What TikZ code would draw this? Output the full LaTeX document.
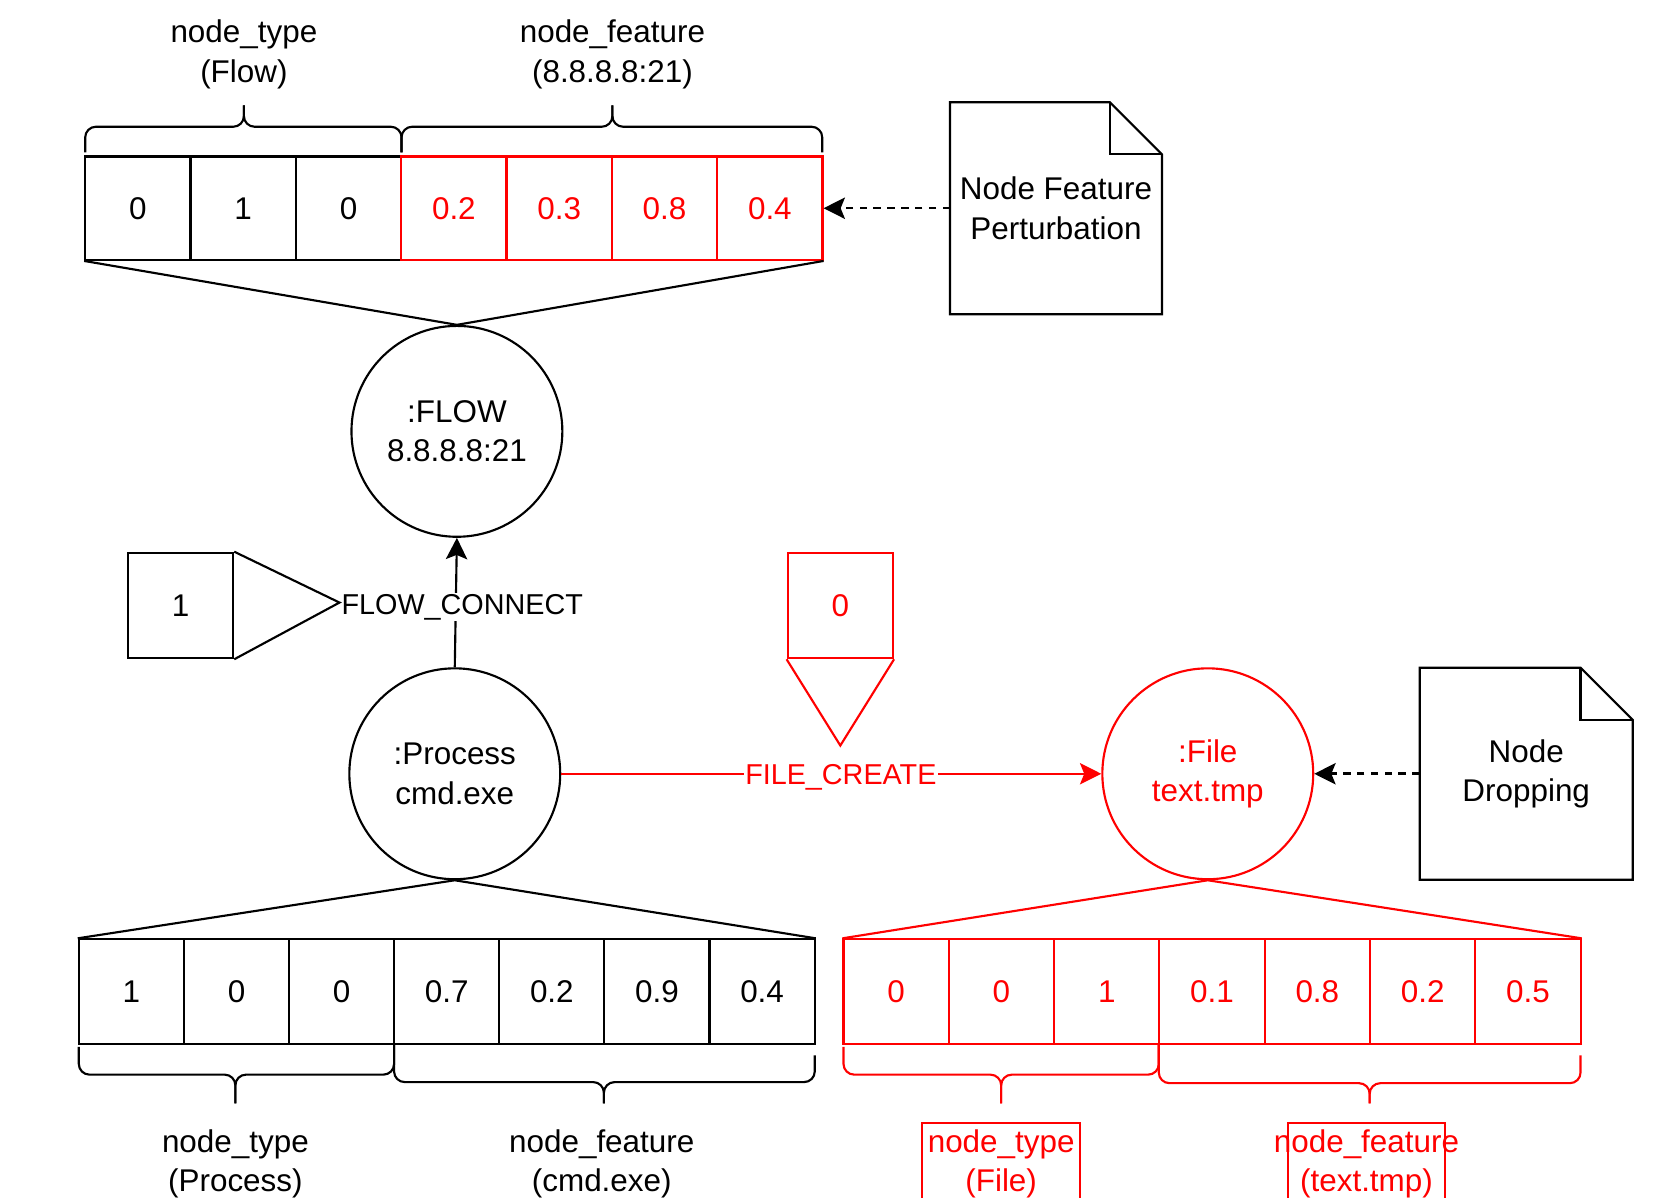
\documentclass[tikz,border=0pt]{standalone}
\usepackage{fontspec}
\setmainfont{Liberation Sans}
\usetikzlibrary{arrows.meta}
\begin{document}
\begin{tikzpicture}[x=1pt,y=-1pt,
  every node/.style={font=\fontsize{29.5}{37}\selectfont},
  line width=2pt,
  cell/.style={draw, minimum width=98.9pt, minimum height=97pt, inner sep=0pt},
  ent/.style={draw, circle, minimum size=198pt, inner sep=0pt, align=center},
  edgelabel/.style={font=\fontsize{27}{33}\selectfont, fill=white, inner sep=1pt},
  arrowed/.style={-{Stealth[length=20pt,width=20pt,inset=4pt]}},
  perturb/.style={arrowed, line width=2.4pt, dash pattern=on 7pt off 6pt},
  doc/.style={minimum width=197pt, minimum height=197pt, align=center, inner sep=0pt},
  brace/.style={rounded corners=10pt},
  hl/.style={red, text=red},
  lbl/.style={align=center}
]
\useasboundingbox (0,0) rectangle (1568,1124);
\clip (0,0) rectangle (1568,1124);

% ---- flow node and its feature vector ----
\foreach \v [count=\i] in {0,1,0}
  \node[cell] (ta\i) at ({129.45+98.9*(\i-1)},195.5) {\v};
\foreach \v [count=\i from 4] in {0.2,0.3,0.8,0.4}
  \node[cell, hl] (ta\i) at ({129.45+98.9*(\i-1)},195.5) {\v};

\draw[brace] (80,143) -- (80,119) -- (229,119) -- (229,99);
\draw[brace] (229,99) -- (229,119) -- (377,119) -- (377,143);
\draw[brace] (377,143) -- (377,119) -- (575,119) -- (575,99);
\draw[brace] (575,99) -- (575,119) -- (772,119) -- (772,143);
\node[lbl] (tl1) at (229,51) {node\_type\\(Flow)};
\node[lbl] (tl2) at (575,51) {node\_feature\\(8.8.8.8:21)};

\node[ent] (flow) at (429,405) {:FLOW\\8.8.8.8:21};
\draw (ta1.south west) -- (flow.north) -- (ta7.south east);

% ---- perturbation note ----
\node[doc] (nfp) at (991.5,195.5) {Node Feature\\Perturbation};
\draw (nfp.north west) -- ([xshift=-49pt]nfp.north east) -- ([yshift=-49pt]nfp.north east)
  -- (nfp.south east) -- (nfp.south west) -- cycle;
\draw ([xshift=-49pt]nfp.north east) -- ([xshift=-49pt,yshift=-49pt]nfp.north east)
  -- ([yshift=-49pt]nfp.north east);
\draw[perturb] (nfp.west) -- (ta7.east);

% ---- process node and edges ----
\node[ent] (proc) at (427,726.5) {:Process\\cmd.exe};
\node[ent, hl] (file) at (1134,726.5) {:File\\text.tmp};

\draw[arrowed] (proc.north) -- node[edgelabel, xshift=6pt, yshift=-4pt] (fc) {FLOW\_CONNECT} (flow.south);
\draw[arrowed, red] (proc.east) -- node[edgelabel, text=red, xshift=9pt, yshift=-3pt] (fcr) {FILE\_CREATE} (file.west);

% edge type markers
\node[cell, minimum height=99pt] (ew) at (169.5,568.5) {1};
\draw (ew.north east) -- ([yshift=4pt]fc.west) -- (ew.south east);
\node[cell, hl, minimum height=99pt] (ez) at (789,568.5) {0};
\coordinate (eztip) at (789,700);
\draw[red] (ez.south west) -- (eztip) -- (ez.south east);

% ---- dropping note ----
\node[doc, minimum width=198pt] (nd) at (1433,726.5) {Node\\Dropping};
\draw (nd.north west) -- ([xshift=-49pt]nd.north east) -- ([yshift=-49pt]nd.north east)
  -- (nd.south east) -- (nd.south west) -- cycle;
\draw ([xshift=-49pt]nd.north east) -- ([xshift=-49pt,yshift=-49pt]nd.north east)
  -- ([yshift=-49pt]nd.north east);
\draw[perturb] (nd.west) -- (file.east);

% ---- process feature vector ----
\foreach \v [count=\i] in {1,0,0,0.7,0.2,0.9,0.4}
  \node[cell, minimum width=98.7pt, minimum height=98pt] (pa\i) at ({123.35+98.7*(\i-1)},931) {\v};
\draw (pa1.north west) -- (proc.south) -- (pa7.north east);
\draw[brace] (74,983) -- (74,1009) -- (221,1009) -- (221,1036);
\draw[brace] (221,1036) -- (221,1009) -- (370,1009) -- (370,981);
\draw[brace] (370,981) -- (370,1016) -- (567,1016) -- (567,1036);
\draw[brace] (567,1036) -- (567,1016) -- (765,1016) -- (765,991);
\node[lbl] (bl1) at (221,1093) {node\_type\\(Process)};
\node[lbl] (bl2) at (565,1093) {node\_feature\\(cmd.exe)};

% ---- file feature vector ----
\foreach \v [count=\i] in {0,0,1,0.1,0.8,0.2,0.5}
  \node[cell, hl, minimum width=98.86pt, minimum height=98pt] (fa\i) at ({841.43+98.86*(\i-1)},931) {\v};
\draw[red] (fa1.north west) -- (file.south) -- (fa7.north east);
\draw[brace, red] (792,983) -- (792,1009) -- (940,1009) -- (940,1036);
\draw[brace, red] (940,1036) -- (940,1009) -- (1088,1009) -- (1088,981);
\draw[brace, red] (1088,981) -- (1088,1017) -- (1286,1017) -- (1286,1036);
\draw[brace, red] (1286,1036) -- (1286,1017) -- (1484,1017) -- (1484,991);
\node[draw=red, minimum width=148pt, minimum height=150pt, anchor=north] (rb1) at (940,1053) {};
\node[draw=red, minimum width=148pt, minimum height=150pt, anchor=north] (rb2) at (1283,1053) {};
\node[lbl, text=red] (rl1) at (940,1093) {node\_type\\(File)};
\node[lbl, text=red] (rl2) at (1283,1093) {node\_feature\\(text.tmp)};
\end{tikzpicture}
\end{document}
